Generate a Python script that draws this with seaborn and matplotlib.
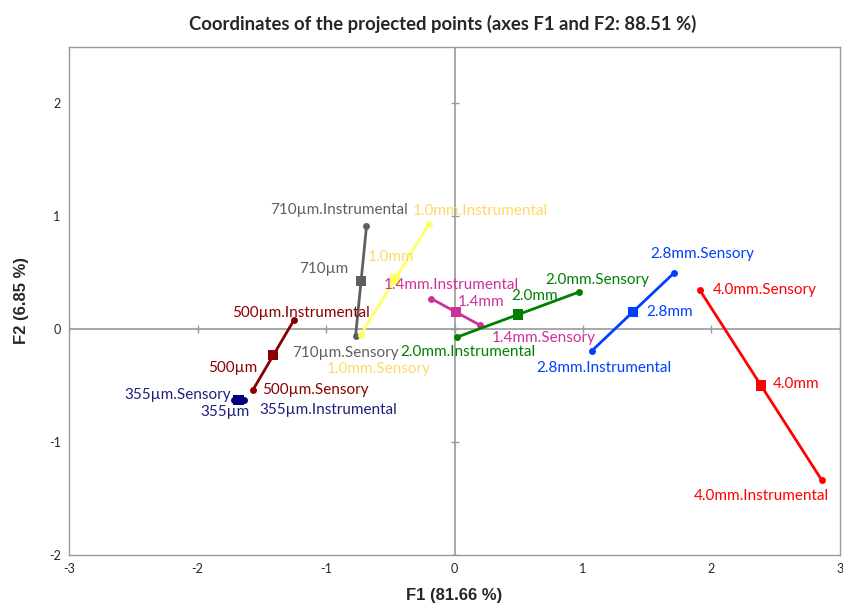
import seaborn as sns
import numpy as np
import pandas as pd
import matplotlib.pyplot as plt

groups = ["355µm", "500µm", "710µm", "1.0mm", "1.4mm", "2.0mm", "2.8mm", "4.0mm"]

# coordinates
sensory_f1 = [-1.72, -1.57, -0.77, -0.73, 0.20, 0.97, 1.71, 1.91]
sensory_f2 = [-0.63, -0.54, -0.06, -0.05, 0.035, 0.33, 0.50, 0.345]
instr_f1 = [-1.64, -1.25, -0.685, -0.20, -0.18, 0.02, 1.07, 2.86]
instr_f2 = [-0.63, 0.08, 0.91, 0.93, 0.27, -0.07, -0.19, -1.34]

colors = ["#000080", "#8B0000", "#5F5F5F", "#FFFF66", "#CC3399", "#008000", "#0040FF", "#FF0000"]
text_colors = ["#1F1F7A", "#8B0000", "#5F5F5F", "#FFD966", "#CC3399", "#008000", "#0040FF", "#FF0000"]

# label offsets in pixels (dx, dy, ha) for sensory / instrumental / mean labels
sens_off = [(-3, 5, "right"), (9, 0, "left"), (-10, -17, "center"), (18, -34, "center"),
            (12, -13, "left"), (18, 12, "center"), (28, 19, "center"), (13, 0, "left")]
inst_off = [(16, -10, "left"), (7, 7, "center"), (-27, 16, "center"), (52, 13, "center"),
            (20, 14, "center"), (11, -15, "center"), (12, -17, "center"), (-61, -16, "center")]
mean_off = [(-14, -12, "center"), (-16, -13, "right"), (-13, 12, "right"), (-4, 23, "center"),
            (2, 10, "left"), (17, 19, "center"), (13, 0, "left"), (12, 1, "left")]

rows = []
for g, sx, sy, ix, iy in zip(groups, sensory_f1, sensory_f2, instr_f1, instr_f2):
    rows.append({"group": g, "kind": "Sensory", "F1": sx, "F2": sy})
    rows.append({"group": g, "kind": "Instrumental", "F1": ix, "F2": iy})
df = pd.DataFrame(rows)
means = df.groupby("group", sort=False)[["F1", "F2"]].mean().reset_index()

sns.set_style("white")
plt.rcParams["font.family"] = ["Lato", "DejaVu Sans"]
plt.rcParams["axes.unicode_minus"] = False

fig = plt.figure(figsize=(8.43, 6.08), dpi=100)
ax = fig.add_axes([0.0819, 0.0872, 0.9145, 0.8355])

ax.axhline(0, color="#9A9A9A", lw=1.2, zorder=0)
ax.axvline(0, color="#9A9A9A", lw=1.2, zorder=0)
# little crosshair ticks on the zero lines
ticks_x = np.arange(-3, 4)
ticks_y = np.arange(-2, 3)
ax.scatter(ticks_x, np.zeros_like(ticks_x), marker="|", s=40, color="#9A9A9A", lw=1, zorder=0)
ax.scatter(np.zeros_like(ticks_y), ticks_y, marker="_", s=40, color="#9A9A9A", lw=1, zorder=0)

palette = dict(zip(groups, colors))
sns.lineplot(data=df, x="F1", y="F2", hue="group", palette=palette, sort=False,
             estimator=None, lw=2, marker="o", markersize=5, markeredgewidth=0,
             legend=False, ax=ax)
sns.scatterplot(data=means, x="F1", y="F2", hue="group", palette=palette, marker="s",
                s=55, linewidth=0, legend=False, ax=ax, zorder=3)

fs = 11
for i, g in enumerate(groups):
    tc = text_colors[i]
    dx, dy, ha = sens_off[i]
    ax.annotate(f"{g}.Sensory", (sensory_f1[i], sensory_f2[i]), xytext=(dx, dy),
                textcoords="offset pixels", ha=ha, va="center", color=tc, fontsize=fs)
    dx, dy, ha = inst_off[i]
    ax.annotate(f"{g}.Instrumental", (instr_f1[i], instr_f2[i]), xytext=(dx, dy),
                textcoords="offset pixels", ha=ha, va="center", color=tc, fontsize=fs)
    dx, dy, ha = mean_off[i]
    ax.annotate(g, (means.F1[i], means.F2[i]), xytext=(dx, dy),
                textcoords="offset pixels", ha=ha, va="center", color=tc, fontsize=fs)

ax.set_xlim(-3, 3)
ax.set_ylim(-2, 2.5)
ax.set_xticks(ticks_x)
ax.set_yticks(ticks_y)
ax.tick_params(labelsize=9, length=0, pad=6)
for s in ax.spines.values():
    s.set_color("#9A9A9A")
    s.set_linewidth(1)

ax.set_xlabel("F1 (81.66 %)", fontsize=12, fontweight="bold", family="Liberation Sans", labelpad=9)
ax.set_ylabel("F2 (6.85 %)", fontsize=12, fontweight="bold", family="Liberation Sans", labelpad=14)
fig.suptitle("Coordinates of the projected points (axes F1 and F2: 88.51 %)",
             x=0.525, y=0.975, fontsize=13.3, fontweight="bold")

fig.savefig("out.png", dpi=100)
